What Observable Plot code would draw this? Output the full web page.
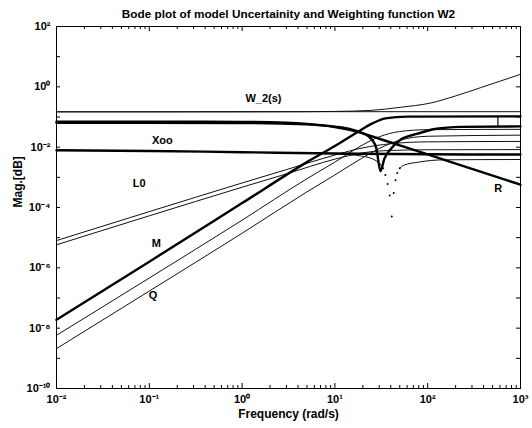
<!DOCTYPE html>
<html><head><meta charset="utf-8">
<script src="https://cdn.jsdelivr.net/npm/d3@7"></script>
<script src="https://cdn.jsdelivr.net/npm/@observablehq/plot@0.6"></script>
<style>body{margin:0;background:#fff}</style>
</head><body><div id="chart"></div>
<script>
// frequency (rad/s), magnitude
const W2 = [[0.01,0.147],[0.1,0.147],[1,0.148],[5,0.15],[10,0.153],[24,0.165],[51,0.21],[107,0.29],[200,0.5],[372,0.94],[1000,2.6]];
const flat = [[0.01,0.15],[1000,0.15]];
const R = [[0.01,0.07],[0.1,0.07],[1,0.069],[3,0.065],[5,0.059],[10,0.046],[17.6,0.032],[30,0.019],[50,0.0115],[100,0.0058],[300,0.0019],[1000,0.00057]];
const N = [[0.01,0.064],[1,0.063],[5,0.057],[10,0.048],[15,0.039],[20,0.029],[25,0.018],[28,0.009],[31,0.0016],[34,0.004],[40,0.0087],[50,0.017],[78,0.028],[120,0.04],[230,0.047],[1000,0.049]];
const Xoo = [[0.01,0.0079],[0.1,0.0075],[1,0.0068],[10,0.0062],[100,0.0058],[1000,0.0057]];
const L0a = [[0.01,8e-6],[0.1,7.3e-5],[1,6.5e-4],[3,1.8e-3],[10,5.5e-3],[20,9.5e-3],[40,0.013],[100,0.015],[1000,0.0155]];
const L0b = [[0.01,5.8e-6],[0.1,5.3e-5],[1,4.7e-4],[3,1.3e-3],[10,4e-3],[20,6.5e-3],[40,7.8e-3],[100,8.2e-3],[1000,8.3e-3]];
const M = [[0.01,1.9e-8],[0.1,1.6e-6],[1,1.4e-4],[5,3.2e-3],[10,0.011],[17.6,0.032],[25,0.06],[35,0.09],[60,0.103],[1000,0.105]];
const P = [[0.01,5.8e-9],[0.1,4.6e-7],[1,3.8e-5],[5,9e-4],[10,3.2e-3],[20,0.012],[30,0.022],[50,0.033],[100,0.038],[1000,0.039]];
const Q = [[0.01,2.1e-9],[0.1,1.7e-7],[1,1.4e-5],[5,3.3e-4],[10,1.2e-3],[20,4.5e-3],[30,9e-3],[50,0.017],[100,0.023],[1000,0.025]];
const Dsolid = [[10,0.006],[20,0.005],[30,0.003],[33,0.002]];
const Ddots = [[33,0.002],[35,0.0012],[37,6e-4],[39,2.5e-4],[41,5e-5],[43,3e-4],[45,8e-4],[47,1.4e-3],[50,2e-3]];
const Dtail = [[50,0.002],[55,0.0025],[80,0.0032],[150,0.0038],[1000,0.0039]];
const bar = [{x:571, y1:0.049, y2:0.105}];

const labels = [
  {t:"W_2(s)", x:1.7, y:0.41},
  {t:"Xoo", x:0.138, y:0.0166},
  {t:"L0", x:0.078, y:6.3e-4},
  {t:"M", x:0.119, y:6.4e-6},
  {t:"Q", x:0.11, y:1.2e-7},
  {t:"R", x:575, y:4.3e-4}
];
const title = "Bode plot of model Uncertainity and Weighting function W2";
const xLabel = "Frequency (rad/s)";
const yLabel = "Mag.[dB]";
const xTicks = [0.01,0.1,1,10,100,1000];
const yTicks = [1e-10,1e-8,1e-6,1e-4,1e-2,1,100];

const thin = {W2, flat, L0a, L0b, P, Q, Dsolid, Dtail};
const thick = {R, N, Xoo, M};
const rows = (obj) => Object.entries(obj).flatMap(([k,arr]) => arr.map(([x,y]) => ({k,x,y})));
const thinRows = rows(thin), thickRows = rows(thick);

const supMap = {"-":"\u207B","0":"\u2070","1":"\u00B9","2":"\u00B2","3":"\u00B3","4":"\u2074","5":"\u2075","6":"\u2076","7":"\u2077","8":"\u2078","9":"\u2079"};
const fmt = v => "10" + String(Math.round(Math.log10(v))).split("").map(c => supMap[c]).join("");
const xMinor = [];
for (let e = -2; e < 3; e++) for (let k = 2; k < 10; k++) xMinor.push(k * 10 ** e);
const yAll = [];
for (let e = -10; e <= 2; e++) yAll.push(10 ** e);

const FH = 362, FW = 464;
const chart = Plot.plot({
  width: 532, height: 428,
  marginLeft: 56, marginRight: 12, marginTop: 26, marginBottom: 40,
  style: {fontFamily: "'Liberation Sans', Arial, sans-serif", fontSize: "11px", background: "#fff", color: "#000"},
  x: {type: "log", domain: [1e-2, 1e3]},
  y: {type: "log", domain: [1e-10, 1e2]},
  marks: [
    Plot.ruleX(xMinor, {insetTop: FH - 3, stroke: "#000"}),
    Plot.ruleX(xMinor, {insetBottom: FH - 3, stroke: "#000"}),
    Plot.ruleX(xTicks, {insetTop: FH - 5, stroke: "#000"}),
    Plot.ruleX(xTicks, {insetBottom: FH - 5, stroke: "#000"}),
    Plot.ruleY(yAll, {insetRight: FW - 4, stroke: "#000"}),
    Plot.ruleY(yAll, {insetLeft: FW - 4, stroke: "#000"}),
    Plot.frame({stroke: "#000"}),
    Plot.axisX({ticks: xTicks, tickFormat: fmt, tickSize: 0, tickPadding: 7, fontWeight: "bold", label: null}),
    Plot.axisY({ticks: yTicks, tickFormat: fmt, tickSize: 0, tickPadding: 6, fontWeight: "bold", label: null}),
    Plot.text([xLabel], {frameAnchor: "bottom", dy: 29, fontWeight: "bold", fontSize: 12}),
    Plot.text([yLabel], {frameAnchor: "left", dx: -38, rotate: -90, fontWeight: "bold", fontSize: 12}),
    Plot.line(thinRows, {x: "x", y: "y", z: "k", stroke: "#111", strokeWidth: 1, curve: "monotone-x"}),
    Plot.line(thickRows, {x: "x", y: "y", z: "k", stroke: "#000", strokeWidth: 2.4, curve: "monotone-x"}),
    Plot.dot(Ddots.map(([x,y]) => ({x,y})), {x: "x", y: "y", r: 1, fill: "#000", stroke: null}),
    Plot.ruleX(bar, {x: "x", y1: "y1", y2: "y2", stroke: "#000", strokeWidth: 1.2}),
    Plot.text(labels, {x: "x", y: "y", text: "t", fontWeight: "bold", fontSize: 11}),
    Plot.text([title], {frameAnchor: "top", dy: -17, fontWeight: "bold", fontSize: 11.8})
  ]
});
document.getElementById("chart").append(chart);
</script>
</body></html>
